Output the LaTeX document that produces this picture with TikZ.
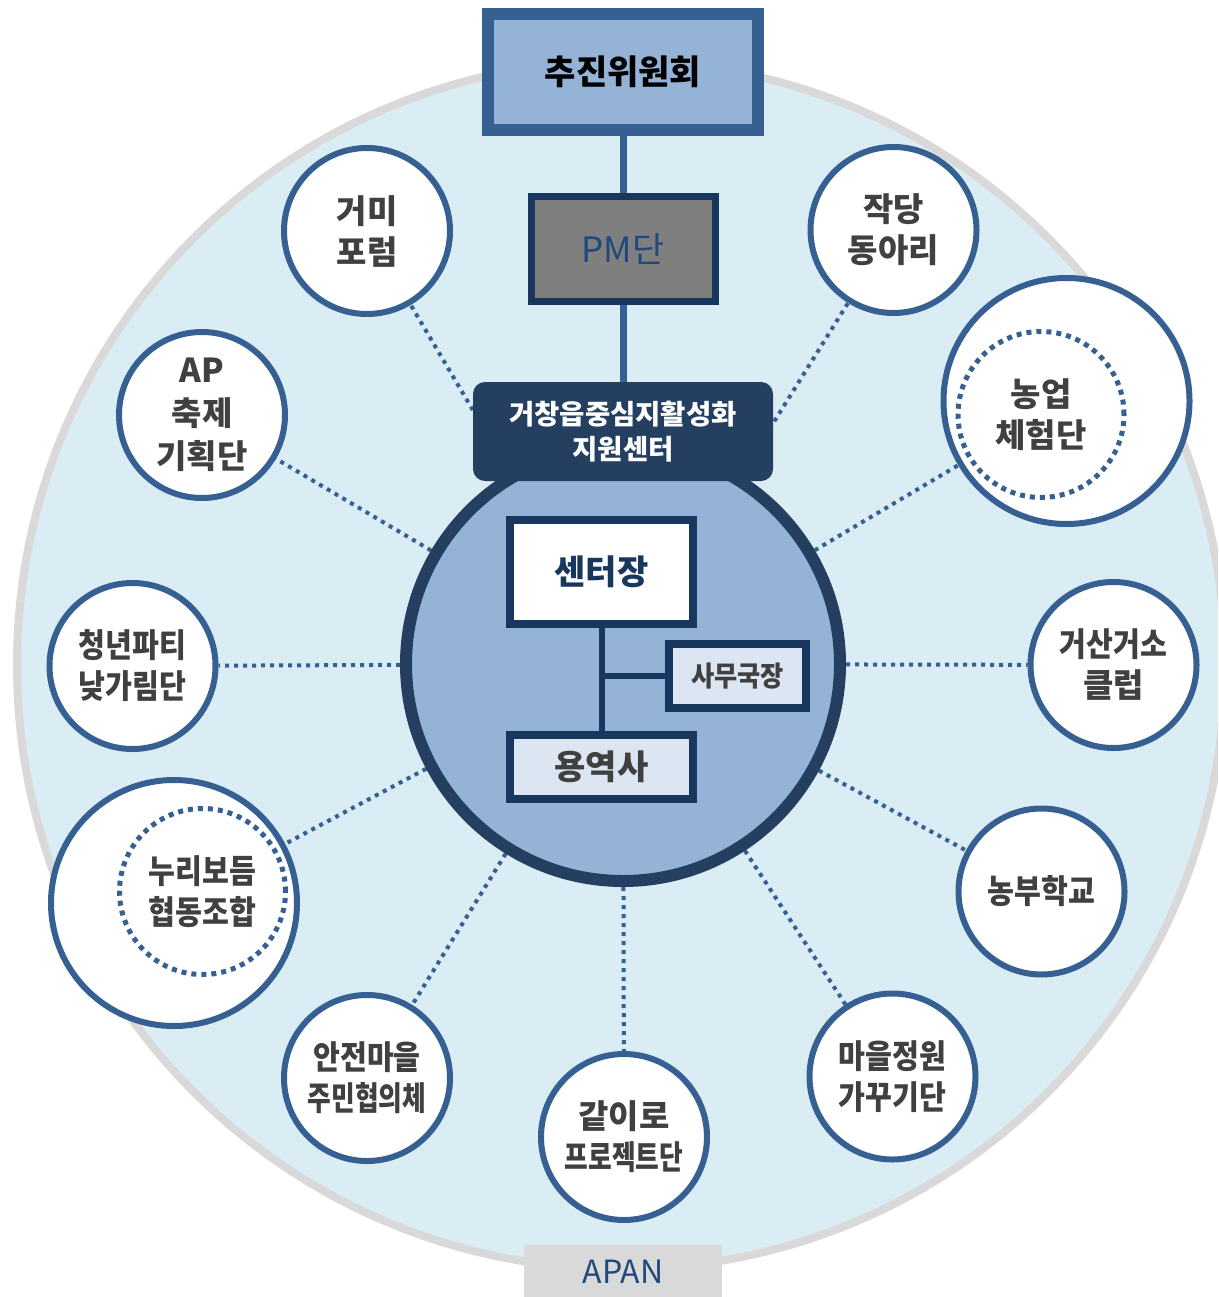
\documentclass[tikz,border=0pt]{standalone}
\usepackage{fontspec}
\usepackage{graphicx}
\setmainfont{Noto Sans CJK KR}
\definecolor{bgfill}{HTML}{DBEDF4}
\definecolor{bgline}{HTML}{D9D9D9}
\definecolor{topfill}{HTML}{95B3D7}
\definecolor{topline}{HTML}{376092}
\definecolor{navy}{HTML}{17375E}
\definecolor{darkbox}{HTML}{243F60}
\definecolor{pmfill}{HTML}{7F7F7F}
\definecolor{pmtext}{HTML}{1F497D}
\definecolor{lightbox}{HTML}{DCE6F2}
\definecolor{satline}{HTML}{376092}
\definecolor{txtgray}{HTML}{404040}
\newcommand\sattext{\bfseries\fontsize{33}{41}\selectfont}
\newcommand\sqz[1]{\scalebox{0.78}[1]{#1}}
\newcommand\sqf[1]{\scalebox{0.885}[1]{#1}}
\pgfdeclarelayer{backlayer}
\pgfdeclarelayer{linelayer}
\pgfsetlayers{backlayer,linelayer,main}
\tikzset{
  sat/.style={circle, draw=satline, line width=6pt, fill=white, minimum size=166pt,
    inner sep=0pt, align=center, text=txtgray, font=\sattext},
  bigsat/.style={circle, draw=satline, line width=6pt, fill=white, minimum size=246pt, inner sep=0pt},
  innersat/.style={circle, draw=satline, line width=5pt, dash pattern=on 5pt off 5pt,
    minimum size=166pt, inner sep=0pt, align=center, text=txtgray, font=\sattext},
  conn/.style={draw=satline, line width=4pt, dash pattern=on 4pt off 5pt},
  ibox/.style={rectangle, draw=navy, line width=8pt, inner sep=0pt},
  solidline/.style={draw=topline, line width=7pt},
  innerline/.style={draw=navy, line width=6pt},
}
\begin{document}
\begin{tikzpicture}[x=1pt,y=-1pt]
\useasboundingbox (0,0) rectangle (1218,1297);
\begin{pgfonlayer}{backlayer}
  \begin{scope}
    \clip (0,0) rectangle (1218,1297);
    \draw[draw=bgline, line width=8pt, fill=bgfill] (621,665) circle[radius=604pt];
  \end{scope}
\end{pgfonlayer}

% top boxes
\node[rectangle, draw=topline, line width=12pt, fill=topfill, minimum width=270pt,
  minimum height=116pt, inner sep=0pt, font=\bfseries\fontsize{34}{34}\selectfont, text=black]
  (top) at (623,72) {추진위원회};
\node[rectangle, draw=navy, line width=7pt, fill=pmfill, minimum width=184pt,
  minimum height=105pt, inner sep=0pt, font=\fontsize{35}{35}\selectfont, text=pmtext]
  (pm) at (623,249) {PM단};

% center circle and box
\node[circle, draw=darkbox, line width=12pt, fill=topfill, minimum size=434pt, inner sep=0pt]
  (cc) at (623,664) {};
\node[rectangle, fill=darkbox, rounded corners=12pt, minimum width=300pt, minimum height=99pt,
  inner sep=0pt, align=center, text=white, font=\bfseries\fontsize{27.5}{35}\selectfont]
  (cbox) at (623,431.5) {거창읍중심지활성화\\지원센터};

\node[ibox, fill=white, minimum width=183pt, minimum height=104pt, text=navy,
  font=\bfseries\fontsize{34}{34}\selectfont] (head) at (601.5,572) {센터장};
\node[ibox, fill=lightbox, minimum width=137pt, minimum height=64pt, text=txtgray,
  font=\bfseries\fontsize{28}{28}\selectfont] (sec) at (737.5,676) {\scalebox{0.9}[1]{사무국장}};
\node[ibox, fill=lightbox, minimum width=183pt, minimum height=64pt, text=txtgray,
  font=\bfseries\fontsize{34}{34}\selectfont] (yong) at (601.5,767) {용역사};

\draw[innerline] (head.south) -- (yong.north);
\draw[innerline] (sec.west) -- (sec.west -| head.south);
\draw[solidline] (top.south) -- (pm.north);
\draw[solidline] (pm.south) -- (cbox.north);

% satellites
\node[sat] (s1) at (367,231) {거미\\포럼};
\node[sat] (s2) at (893.5,230) {작당\\동아리};
\node[sat, font=\bfseries\fontsize{33}{43}\selectfont] (s3) at (202,415) {AP\\축제\\기획단};
\node[bigsat] (s4) at (1066.5,401) {};
\node[innersat] (s4i) at (1041,414.5) {농업\\체험단};
\node[sat] (s5) at (132.5,666) {\sqf{청년파티}\\\sqf{낮가림단}};
\node[sat] (s6) at (1113.5,665) {\sqf{거산거소}\\클럽};
\node[bigsat] (s7) at (174,903) {};
\node[innersat] (s7i) at (202.5,891.5) {\sqf{누리보듬}\\\sqf{협동조합}};
\node[sat] (s8) at (1041.5,891.5) {\sqf{농부학교}};
\node[sat] (s9) at (367,1078) {\sqf{안전마을}\\\sqz{주민협의체}};
\node[sat] (s10) at (624,1137) {같이로\\\sqz{프로젝트단}};
\node[sat] (s11) at (892.5,1076.5) {\sqf{마을정원}\\\sqf{가꾸기단}};

\node[rectangle, fill=bgline, minimum width=198pt, minimum height=54pt, inner sep=0pt,
  font=\fontsize{32}{32}\selectfont, text=pmtext] (apan) at (623,1272) {APAN};

\begin{pgfonlayer}{linelayer}
  \foreach \s in {s1,s2,s3,s4,s5,s6,s7,s8,s9,s10,s11}
    \draw[conn] (cc) -- (\s);
\end{pgfonlayer}
\end{tikzpicture}
\end{document}
